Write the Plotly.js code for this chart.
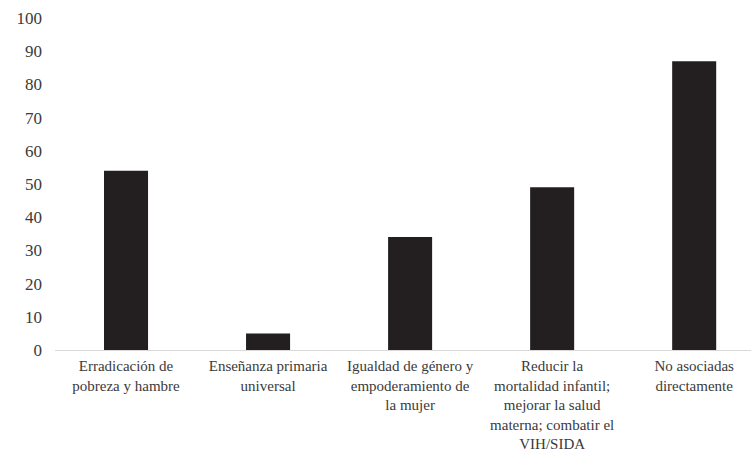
<!DOCTYPE html>
<html>
<head>
<meta charset="utf-8">
<script src="https://cdn.plot.ly/plotly-3.0.1.min.js"></script>
<style>
html,body{margin:0;padding:0;background:#fff;}
#chart{width:751px;height:453px;}
</style>
</head>
<body>
<div id="chart"></div>
<script>
const categories = [
  "Erradicación de<br>pobreza y hambre",
  "Enseñanza primaria<br>universal",
  "Igualdad de género y<br>empoderamiento de<br>la mujer",
  "Reducir la<br>mortalidad infantil;<br>mejorar la salud<br>materna; combatir el<br>VIH/SIDA",
  "No asociadas<br>directamente"
];
const values = [54, 5, 34, 49, 87];
const yTicks = [0, 10, 20, 30, 40, 50, 60, 70, 80, 90, 100];

const trace = {
  type: 'bar',
  x: categories,
  y: values,
  marker: {color: '#231f20', line: {width: 0}},
  hoverinfo: 'none'
};
const layout = {
  width: 751, height: 453,
  margin: {l: 55, r: 0, t: 18, b: 103},
  paper_bgcolor: '#fff', plot_bgcolor: '#fff',
  showlegend: false,
  bargap: 0.69,
  font: {family: 'Liberation Serif', color: '#3a3a3a', size: 16},
  xaxis: {
    type: 'category',
    range: [-0.5, 4.4],
    showline: true, linecolor: '#d9d9d9', linewidth: 1,
    ticks: '', showgrid: false, zeroline: false,
    tickfont: {size: 15},
    ticklabelstandoff: 2
  },
  yaxis: {
    range: [0, 100],
    tickvals: yTicks,
    showgrid: false, zeroline: false, showline: false, ticks: '',
    tickfont: {size: 17},
    ticklabelstandoff: 12
  }
};
Plotly.newPlot('chart', [trace], layout, {displayModeBar: false, staticPlot: true});
</script>
</body>
</html>
